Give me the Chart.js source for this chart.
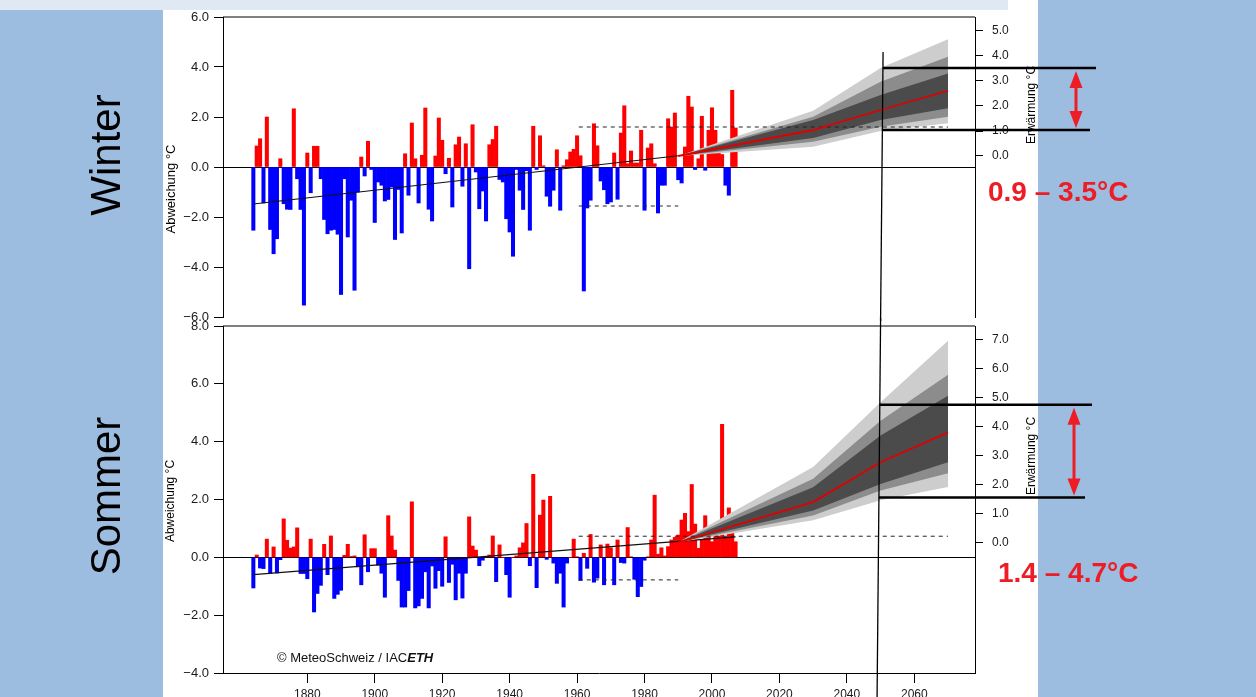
<!DOCTYPE html>
<html lang="de">
<head>
<meta charset="utf-8">
<title>Winter / Sommer – Abweichung und Erwärmung</title>
<script src="https://cdn.jsdelivr.net/npm/chart.js@4.4.1/dist/chart.umd.min.js"></script>
<style>
  html, body { margin: 0; padding: 0; }
  body { width: 1256px; height: 697px; overflow: hidden; position: relative; background: #fff; font-family: "Liberation Sans", Arial, sans-serif; }
  canvas { display: block; }
  .abs { position: absolute; }
  .blue { background: #9dbde0; }
  .rot { position: absolute; transform: translate(-50%, -50%) rotate(-90deg); white-space: nowrap; line-height: 1; color: #000; }
  .range { position: absolute; font-weight: bold; font-size: 28px; line-height: 1; color: #ee1c24; white-space: nowrap; }
</style>
</head>
<body>
<div class="abs" style="left:0;top:0;width:1008px;height:10px;background:#dfe8f3"></div>
<div class="abs blue" style="left:0;top:10px;width:163px;height:687px"></div>
<div class="abs blue" style="left:1038px;top:0;width:218px;height:697px"></div>

<div class="abs" style="left:0;top:0;width:1256px;height:321px;overflow:hidden">
  <canvas id="winterChart" width="1256" height="340" style="width:1256px;height:340px"></canvas>
</div>
<div class="abs" style="left:0;top:300px;width:1256px;height:420px">
  <canvas id="summerChart" width="1256" height="420" style="width:1256px;height:420px"></canvas>
</div>

<div class="rot" style="left:106px;top:155px;font-size:42px">Winter</div>
<div class="rot" style="left:106px;top:496px;font-size:42px">Sommer</div>
<div class="rot" style="left:170px;top:189px;font-size:13px">Abweichung °C</div>
<div class="rot" style="left:170px;top:501px;font-size:12px">Abweichung °C</div>
<div class="rot" style="left:1031px;top:105px;font-size:12px">Erwärmung °C</div>
<div class="rot" style="left:1031px;top:456px;font-size:12px">Erwärmung °C</div>
<div class="range" style="left:988px;top:178px">0.9 – 3.5°C</div>
<div class="range" style="left:998px;top:559px">1.4 – 4.7°C</div>
<div class="abs" style="left:277px;top:650px;font-size:13px;color:#111;white-space:nowrap">© MeteoSchweiz / IAC<b><i>ETH</i></b></div>

<script>
// yearly anomalies (°C, left axis), 1864 - 2007
const firstYear = 1864;
const winterValues = [
  -2.53, 0.84, 1.13, -1.44, 2.0, -2.5,
  -3.47, -2.87, 0.33, -1.47, -1.69, -1.7, 2.33, -0.47, -1.7, -5.53,
  0.56, -1.03, 0.83, 0.83, -0.47, -2.1, -2.67, -2.53, -2.5, -2.69,
  -5.1, -0.47, -2.8, -1.33, -4.93, -1.0, 0.4, -0.36, 1.03, -0.1,
  -2.22, -0.6, -0.73, -1.36, -1.3, -0.8, -2.9, -0.9, -2.64, 0.53,
  -1.13, 1.76, 0.33, -1.44, 0.47, 2.36, -1.69, -2.16, 0.44, 1.96,
  1.07, -0.27, 0.35, -1.6, 0.89, 1.2, -0.77, 0.93, -4.07, 1.69,
  -0.2, -1.67, -0.96, -2.16, 0.89, 1.1, 1.63, -0.5, -0.6, -2.07,
  -2.6, -3.57, -0.1, -0.93, -1.7, -0.15, -2.53, 1.63, -0.1, 1.25,
  0.05, -1.17, -1.57, -0.93, 0.69, -1.73, 0.05, 0.29, 0.6, 0.71,
  1.25, 0.45, -4.96, -1.64, -1.33, 1.73, 0.85, -0.56, -0.91, -1.47,
  -1.4, 0.56, -1.29, 1.36, 2.45, 0.13, 0.64, 0.16, 0.16, 1.47,
  -1.73, 0.76, 0.93, 0.13, -1.84, -0.73, -0.73, 1.93, 1.6, 2.16,
  -0.51, -0.64, 0.8, 2.83, 2.4, -0.1, 0.33, 2.03, -0.13, 1.47,
  2.37, 1.47, 0.9, 0.5, -0.73, -1.13, 3.07, 1.56
];
const summerValues = [
  -1.06, 0.08, -0.37, -0.39, 0.63, -0.56,
  0.36, -0.54, -0.08, 1.33, 0.59, 0.32, 0.36, 1.02, -0.56, -0.56,
  -0.74, 0.63, -1.89, -1.25, -0.97, 0.45, -0.6, 0.74, -1.42, -1.28,
  -1.14, 0.07, 0.45, 0.03, 0.05, -0.33, -0.95, 0.78, -0.5, 0.3,
  0.3, -0.27, -0.55, -1.38, 1.44, 0.74, 0.25, -0.8, -1.72, -1.72,
  -1.15, 1.92, -1.75, -1.68, -1.42, -0.5, -1.75, -0.3, -1.07, -0.46,
  -1.0, 0.71, -0.87, -0.24, -1.47, -0.55, -1.41, -0.55, 1.4, 0.39,
  0.25, -0.29, -0.1, 0.02, 0.08, 0.74, -0.84, 0.43, 0.0, -0.6,
  -1.38, 0.0, 0.05, 0.33, 0.5, 1.17, -0.29, 2.87, -1.05, 1.46,
  1.98, -0.07, 2.11, -0.2, -0.9, -0.55, -1.72, -0.2, 0.0, 0.63,
  0.02, -0.8, 0.14, -0.38, 0.79, -0.86, -0.72, 0.43, -0.95, 0.46,
  0.33, -0.95, 0.6, -0.18, -0.2, 1.03, 0.02, -0.76, -1.36, -1.01,
  -0.1, 0.02, 0.6, 2.15, 0.11, 0.33, 0.05, 0.37, 0.6, 0.69,
  0.77, 1.29, 1.52, 0.89, 2.52, 1.15, 0.31, 0.6, 1.44, 0.71,
  0.54, 0.77, 0.74, 4.6, 0.71, 1.71, 0.83, 0.54
];
const years = winterValues.map((_, i) => firstYear + i);

// tick labels
const xTicks = [1880, 1900, 1920, 1940, 1960, 1980, 2000, 2020, 2040, 2060];
const winterLeftTicks = [-6, -4, -2, 0, 2, 4, 6];
const winterRightTicks = [0, 1, 2, 3, 4, 5];
const summerLeftTicks = [-4, -2, 0, 2, 4, 6, 8];
const summerRightTicks = [0, 1, 2, 3, 4, 5, 6, 7];

// scenario fans (warming °C, right axis)
const projYears = [1990, 2030, 2050, 2070];
const winterLightHi = [0, 1.81, 3.52, 4.67];
const winterMedHi   = [0, 1.57, 2.97, 3.97];
const winterDarkHi  = [0, 1.44, 2.44, 3.3];
const winterMedian  = [0, 1.04, 1.84, 2.61];
const winterDarkLo  = [0, 0.72, 1.44, 1.91];
const winterMedLo   = [0, 0.57, 1.17, 1.57];
const winterLightLo = [0, 0.37, 1.0, 1.31];

const summerLightHi = [0, 2.6, 4.84, 6.97];
const summerMedHi   = [0, 2.2, 4.2, 5.79];
const summerDarkHi  = [0, 1.9, 3.69, 5.07];
const summerMedian  = [0, 1.39, 2.77, 3.8];
const summerDarkLo  = [0, 1.1, 2.02, 2.77];
const summerMedLo   = [0, 0.93, 1.79, 2.39];
const summerLightLo = [0, 0.76, 1.45, 1.91];

// linear trend and normal-period spread (left axis)
const trendYears = [1864, 2007];
const winterTrend = [-1.48, 0.71];
const summerTrend = [-0.6, 0.71];
const normUpperYears = [1960.5, 2070];
const normLowerYears = [1960.5, 1990];
const winterNorm = [1.6, -1.56];
const summerNorm = [0.73, -0.78];

// left-axis value where the right axis reads 0
const winterShift = 0.44;
const summerShift = 0.52;

// 2050 range marked with brackets (right axis)
const bracketYear = 2050;
const winterBracket = [3.52, 1.04];
const summerBracket = [4.76, 1.55];

const RED = '#ff0000';
const BLUE = '#0000ff';
const FONT = '"Liberation Sans", Arial, sans-serif';

const fmt = v => (v < 0 ? '\u2212' : '') + Math.abs(v).toFixed(1);
const pts = (xs, ys) => xs.map((x, i) => ({ x, y: ys[i] }));

// frame top, 2050 line, brackets and red arrow
const overlay = {
  id: 'overlay',
  afterDatasetsDraw(chart, args, o) {
    const { ctx, chartArea, scales: { x, y2 } } = chart;
    const x50 = x.getPixelForValue(bracketYear);
    const xAt = cy => x50 + 2.5 - (cy + o.pageTop - 52) * 6 / 645;
    ctx.save();
    ctx.strokeStyle = '#000';
    ctx.lineWidth = 1;
    ctx.beginPath();
    ctx.moveTo(chartArea.left, chartArea.top);
    ctx.lineTo(chartArea.right, chartArea.top);
    ctx.stroke();

    const yStart = o.lineTop - o.pageTop;
    ctx.lineWidth = 1.3;
    ctx.beginPath();
    ctx.moveTo(xAt(yStart), yStart);
    ctx.lineTo(xAt(chart.height), chart.height);
    ctx.stroke();

    const ys = o.bracket.map(v => y2.getPixelForValue(v));
    ctx.lineWidth = 2.5;
    ys.forEach((yy, i) => {
      ctx.beginPath();
      ctx.moveTo(xAt(yy), yy);
      ctx.lineTo(o.bracketEnd[i], yy);
      ctx.stroke();
    });

    const top = ys[0] + 3, bot = ys[1] - 2;
    ctx.strokeStyle = ctx.fillStyle = '#ee1c24';
    ctx.lineWidth = 3;
    ctx.beginPath();
    ctx.moveTo(o.arrowX, top + 12);
    ctx.lineTo(o.arrowX, bot - 12);
    ctx.stroke();
    [[top, 1], [bot, -1]].forEach(([tip, d]) => {
      ctx.beginPath();
      ctx.moveTo(o.arrowX, tip);
      ctx.lineTo(o.arrowX - 6.5, tip + d * 17);
      ctx.lineTo(o.arrowX + 6.5, tip + d * 17);
      ctx.closePath();
      ctx.fill();
    });
    ctx.restore();
  }
};

function band(hi, lo, color, order) {
  const base = { type: 'line', yAxisID: 'y2', borderColor: 'rgba(0,0,0,0)', pointRadius: 0, tension: 0, order };
  return [
    { ...base, data: pts(projYears, hi), fill: false },
    { ...base, data: pts(projYears, lo), fill: '-1', backgroundColor: color }
  ];
}

function buildChart(id, s) {
  const datasets = [
    {
      type: 'bar',
      data: s.values.map((v, i) => ({ x: years[i], y: v })),
      backgroundColor: ctx => (ctx.raw && ctx.raw.y < 0 ? BLUE : RED),
      borderWidth: 0,
      barPercentage: 1,
      categoryPercentage: 1,
      yAxisID: 'y',
      order: 20
    },
    ...band(s.fan[0], s.fan[6], '#cdcdcd', 16),
    ...band(s.fan[1], s.fan[5], '#8c8c8c', 15),
    ...band(s.fan[2], s.fan[4], '#4b4b4b', 14),
    { type: 'line', data: pts(trendYears, s.trend), yAxisID: 'y', borderColor: '#111', borderWidth: 1.2, pointRadius: 0, fill: false, order: 18 },
    { type: 'line', data: pts(normUpperYears, [s.norm[0], s.norm[0]]), yAxisID: 'y', borderColor: '#222', borderWidth: 1, borderDash: [4, 4], pointRadius: 0, fill: false, order: 10 },
    { type: 'line', data: pts(normLowerYears, [s.norm[1], s.norm[1]]), yAxisID: 'y', borderColor: '#222', borderWidth: 1, borderDash: [4, 4], pointRadius: 0, fill: false, order: 10 },
    { type: 'line', data: pts(projYears, s.fan[3]), yAxisID: 'y2', borderColor: '#e00000', borderWidth: 1.8, pointRadius: 0, fill: false, order: 5 }
  ];

  return new Chart(document.getElementById(id), {
    type: 'bar',
    data: { datasets },
    plugins: [overlay],
    options: {
      responsive: false,
      animation: false,
      devicePixelRatio: 1,
      events: [],
      layout: { padding: s.padding },
      plugins: {
        legend: { display: false },
        tooltip: { enabled: false },
        overlay: s.overlay
      },
      scales: {
        x: {
          type: 'linear',
          min: 1855,
          max: 2078,
          offset: false,
          display: s.showX,
          afterBuildTicks: sc => { sc.ticks = xTicks.map(v => ({ value: v })); },
          afterFit: sc => { if (s.showX) sc.height = 30; },
          grid: { offset: false, drawOnChartArea: false, tickLength: 10, color: '#000' },
          border: { display: true, color: '#000', width: 1 },
          ticks: { color: '#1a1a1a', font: { family: FONT, size: 12 }, padding: 4, maxRotation: 0, autoSkip: false, callback: v => String(v) }
        },
        y: {
          position: 'left',
          min: s.yRange[0],
          max: s.yRange[1],
          afterBuildTicks: sc => { sc.ticks = s.leftTicks.map(v => ({ value: v })); },
          afterFit: sc => { sc.width = 50; },
          grid: {
            drawOnChartArea: true,
            color: ctx => (ctx.tick && ctx.tick.value === 0 ? '#000' : 'rgba(0,0,0,0)'),
            tickColor: '#000',
            tickLength: 9
          },
          border: { display: true, color: '#000', width: 1 },
          ticks: { color: '#1a1a1a', font: { family: FONT, size: 13 }, padding: 5, callback: fmt }
        },
        y2: {
          position: 'right',
          min: s.yRange[0] - s.shift,
          max: s.yRange[1] - s.shift,
          afterBuildTicks: sc => { sc.ticks = s.rightTicks.map(v => ({ value: v })); },
          afterFit: sc => { sc.width = 60; },
          grid: { drawOnChartArea: false, color: '#000', tickLength: 8 },
          border: { display: true, color: '#000', width: 1 },
          ticks: { color: '#1a1a1a', font: { family: FONT, size: 12 }, padding: 9, callback: fmt }
        }
      }
    }
  });
}

buildChart('winterChart', {
  values: winterValues,
  fan: [winterLightHi, winterMedHi, winterDarkHi, winterMedian, winterDarkLo, winterMedLo, winterLightLo],
  trend: winterTrend,
  norm: winterNorm,
  shift: winterShift,
  yRange: [-6, 6],
  leftTicks: winterLeftTicks,
  rightTicks: winterRightTicks,
  showX: false,
  padding: { left: 173, right: 221, top: 17, bottom: 23 },
  overlay: { pageTop: 0, lineTop: 52, bracket: winterBracket, bracketEnd: [1096, 1090], arrowX: 1076 }
});

buildChart('summerChart', {
  values: summerValues,
  fan: [summerLightHi, summerMedHi, summerDarkHi, summerMedian, summerDarkLo, summerMedLo, summerLightLo],
  trend: summerTrend,
  norm: summerNorm,
  shift: summerShift,
  yRange: [-4, 8],
  leftTicks: summerLeftTicks,
  rightTicks: summerRightTicks,
  showX: true,
  padding: { left: 173, right: 221, top: 26, bottom: 17 },
  overlay: { pageTop: 300, lineTop: 318, bracket: summerBracket, bracketEnd: [1092, 1085], arrowX: 1074 }
});
</script>
</body>
</html>
